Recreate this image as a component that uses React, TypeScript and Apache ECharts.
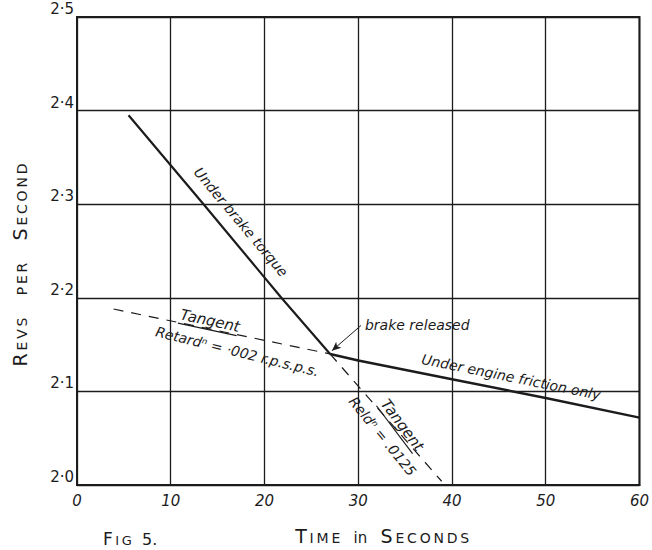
import React, { useEffect, useRef } from "react";
import * as echarts from "echarts";

// ---- data ----
const xTickValues = [0, 10, 20, 30, 40, 50, 60];
const yTickValues = [2.0, 2.1, 2.2, 2.3, 2.4, 2.5];

const brakeTorque: number[][] = [
  [5.5, 2.395],
  [13.5, 2.3],
  [21.8, 2.2],
  [27, 2.14],
];
const engineFriction: number[][] = [
  [27, 2.14],
  [30, 2.133],
  [40, 2.113],
  [50, 2.093],
  [60, 2.072],
];
const tangentFriction: number[][] = [
  [3.9, 2.188],
  [27, 2.14],
];
const tangentBrake: number[][] = [
  [27, 2.14],
  [38.9, 2.004],
];
const releaseArrow: number[][] = [
  [30.3, 2.1705],
  [27.2, 2.1435],
];

const annotationTexts = [
  "Under brake torque",
  "brake released",
  "Under engine friction only",
  "Tangent",
  "Retard\u207F = \u00B7002 r.p.s.p.s.",
  "Tangent",
  "Reld\u207F = .0125",
];
const annotationAnchors: number[][] = [
  [17.5, 2.281],
  [36.3, 2.1713],
  [46.3, 2.1155],
  [14.2, 2.1755],
  [17.1, 2.1426],
  [34.7, 2.064],
  [32.6, 2.052],
];
const annotationAngles = [-50, 0, -11.5, -12, -14, -53, -51];
const annotationUnderline = [false, false, false, true, false, true, false];

const INK = "#1c1c1c";
const FF = "'DejaVu Sans', 'Liberation Sans', sans-serif";
const TS = "\u2009";
const NB = "\u00A0";
const spaced = (s: string) => s.split("").join(TS);

export default function App() {
  const ref = useRef<HTMLDivElement>(null);

  useEffect(() => {
    if (!ref.current) return;
    const chart = echarts.init(ref.current, undefined, { renderer: "svg" });

    const xName =
      "{b|T}{s|" + TS + spaced("IME") + "}{s|" + NB + NB + NB + "}{i|in}{s|" + NB + NB + NB + "}{b|S}{s|" + TS + spaced("ECONDS") + "}";
    const yName =
      "{b|R}{s|" + TS + spaced("EVS") + NB + NB + NB + NB + NB + spaced("PER") + NB + NB + NB + NB + NB + "}{b|S}{s|" + TS + spaced("ECOND") + "}";

    const richName = {
      b: { fontSize: 19, fontFamily: FF, color: INK, verticalAlign: "bottom", lineHeight: 20 },
      s: { fontSize: 14, fontFamily: FF, color: INK, verticalAlign: "bottom", lineHeight: 20 },
      i: { fontSize: 15, fontFamily: FF, color: INK, verticalAlign: "bottom", lineHeight: 20 },
    };

    const option: any = {
      animation: false,
      backgroundColor: "#ffffff",
      grid: {
        left: 77,
        right: 12,
        top: 17,
        bottom: 63,
        show: true,
        borderColor: INK,
        borderWidth: 2,
        backgroundColor: "transparent",
      },
      xAxis: {
        type: "value",
        min: xTickValues[0],
        max: xTickValues[xTickValues.length - 1],
        interval: xTickValues[1] - xTickValues[0],
        axisLine: { show: true, lineStyle: { color: INK, width: 2 } },
        axisTick: { show: false },
        splitLine: { show: true, lineStyle: { color: INK, width: 1.3 } },
        axisLabel: {
          color: INK,
          fontSize: 15,
          fontStyle: "italic",
          fontFamily: FF,
          margin: 8,
        },
        name: xName,
        nameLocation: "middle",
        nameGap: 40,
        nameTextStyle: { rich: richName, padding: [0, 0, 0, 48] },
      },
      yAxis: {
        type: "value",
        min: yTickValues[0],
        max: yTickValues[yTickValues.length - 1],
        interval: 0.1,
        axisLine: { show: true, lineStyle: { color: INK, width: 2 } },
        axisTick: { show: false },
        splitLine: { show: true, lineStyle: { color: INK, width: 1.3 } },
        axisLabel: {
          color: INK,
          fontSize: 15,
          fontFamily: FF,
          margin: 3,
          verticalAlign: "bottom",
          lineHeight: 16,
          formatter: (v: number) => v.toFixed(1).replace(".", "\u00B7"),
        },
        name: yName,
        nameLocation: "middle",
        nameRotate: 90,
        nameGap: 48,
        nameTextStyle: { rich: richName, padding: [0, 28, 0, 0] },
      },
      series: [
        {
          name: "Under brake torque",
          type: "line",
          data: brakeTorque,
          symbol: "none",
          lineStyle: { color: INK, width: 2.2 },
          z: 5,
        },
        {
          name: "Under engine friction only",
          type: "line",
          data: engineFriction,
          symbol: "none",
          lineStyle: { color: INK, width: 2.4 },
          z: 5,
          markLine: {
            silent: true,
            symbol: ["none", "arrow"],
            symbolSize: [6, 9],
            label: { show: false },
            lineStyle: { color: INK, width: 1, type: "solid" },
            data: [[{ coord: releaseArrow[0] }, { coord: releaseArrow[1] }]],
          },
        },
        {
          name: "Tangent (friction)",
          type: "line",
          data: tangentFriction,
          symbol: "none",
          lineStyle: { color: INK, width: 1.2, type: [10, 8] },
          z: 4,
        },
        {
          name: "Tangent (brake)",
          type: "line",
          data: tangentBrake,
          symbol: "none",
          lineStyle: { color: INK, width: 1.2, type: [10, 8] },
          z: 4,
        },
      ],
    };

    chart.setOption(option);

    const graphics: any[] = [];
    annotationTexts.forEach((t, i) => {
      const p = chart.convertToPixel({ gridIndex: 0 }, annotationAnchors[i]) as number[];
      const fs = annotationUnderline[i] ? 15 : 14;
      const children: any[] = [
        {
          type: "text",
          x: 0,
          y: 0,
          style: {
            text: t,
            fill: INK,
            fontSize: fs,
            fontStyle: "italic",
            fontFamily: FF,
            align: "center",
            verticalAlign: "middle",
            textAlign: "center",
            textVerticalAlign: "middle",
          },
        },
      ];
      if (annotationUnderline[i]) {
        children.push({
          type: "line",
          shape: { x1: -31, y1: 9, x2: 29, y2: 9 },
          style: { stroke: INK, lineWidth: 1.2 },
        });
      }
      graphics.push({
        type: "group",
        x: p[0],
        y: p[1],
        rotation: (annotationAngles[i] * Math.PI) / 180,
        children,
      });
    });

    graphics.push({
      type: "text",
      left: 103,
      top: 530,
      style: {
        text: "{b|F}{s|" + TS + spaced("IG") + "}{n|" + NB + NB + "5.}",
        rich: {
          b: { fontSize: 17, fontFamily: FF, fill: INK, verticalAlign: "bottom", lineHeight: 20 },
          s: { fontSize: 13, fontFamily: FF, fill: INK, verticalAlign: "bottom", lineHeight: 20 },
          n: { fontSize: 16, fontFamily: FF, fill: INK, verticalAlign: "bottom", lineHeight: 20 },
        },
      },
    });

    chart.setOption({ graphic: graphics });

    return () => {
      chart.dispose();
    };
  }, []);

  return (
    <div
      ref={ref}
      style={{ position: "fixed", left: 0, top: 0, width: 652, height: 550, background: "#fff" }}
    />
  );
}
